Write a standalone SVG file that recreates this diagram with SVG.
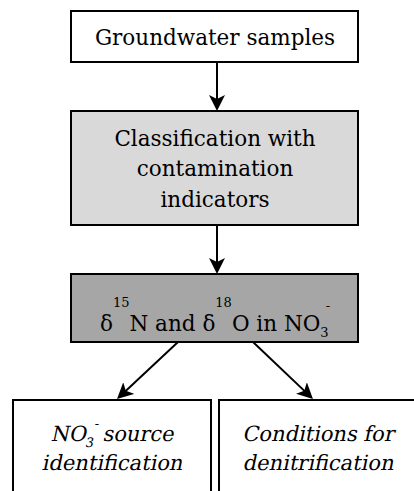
<svg xmlns="http://www.w3.org/2000/svg" width="414" height="491" viewBox="0 0 414 491">
<style>
  .box { stroke: #000; stroke-width: 2; }
  .t { font-family: "DejaVu Serif", "Liberation Serif", serif; font-size: 21.5px; fill: #000; text-anchor: middle; }
  .it { font-size: 21px; }
  .sm { font-size: 13px; }
  .conn { stroke: #000; stroke-width: 2; fill: none; marker-end: url(#ah); }
</style>
<defs>
  <marker id="ah" viewBox="0 0 16 16" refX="10" refY="8" markerWidth="16" markerHeight="16" markerUnits="userSpaceOnUse" orient="auto">
    <path d="M0,0 L16,8 L0,16 L4,8 z" fill="#000"/>
  </marker>
</defs>
<g id="node-groundwater">
  <rect class="box" x="71" y="11" width="287" height="51" fill="#fff"/>
  <text class="t" x="215" y="45">Groundwater samples</text>
</g>
<g id="node-classification">
  <rect class="box" x="71" y="111" width="287" height="114" fill="#d9d9d9"/>
  <text class="t" x="215" y="146">Classification with</text>
  <text class="t" x="215" y="176">contamination</text>
  <text class="t" x="215" y="207">indicators</text>
</g>
<g id="node-isotopes">
  <rect class="box" x="71" y="274" width="287" height="68" fill="#a6a6a6"/>
  <text class="t" x="215" y="331">δ<tspan class="sm" dy="-24">15</tspan><tspan dy="24">N and δ</tspan><tspan class="sm" dy="-24">18</tspan><tspan dy="24">O in NO</tspan><tspan class="sm" dy="6">3</tspan><tspan class="sm" dx="-3" dy="-27">-</tspan></text>
</g>
<g id="node-source">
  <rect class="box" x="13" y="400" width="198" height="100" fill="#fff"/>
  <g transform="translate(112,441) skewX(-12)">
    <text class="t it" x="0" y="0">NO<tspan class="sm" dy="6">3</tspan><tspan class="sm" dx="-3" dy="-19">-</tspan><tspan dy="13"> source</tspan></text>
  </g>
  <g transform="translate(112,470) skewX(-12)">
    <text class="t it" x="0" y="0">identification</text>
  </g>
</g>
<g id="node-denitrification">
  <rect class="box" x="219" y="400" width="198" height="100" fill="#fff"/>
  <g transform="translate(318,441) skewX(-12)">
    <text class="t it" x="0" y="0">Conditions for</text>
  </g>
  <g transform="translate(318,470) skewX(-12)">
    <text class="t it" x="0" y="0">denitrification</text>
  </g>
</g>
<g id="connectors">
  <line class="conn" x1="217" y1="62" x2="217" y2="105"/>
  <line class="conn" x1="217" y1="225" x2="217" y2="268"/>
  <line class="conn" x1="178" y1="342" x2="121.4" y2="394.9"/>
  <line class="conn" x1="253" y1="342" x2="308.6" y2="394.9"/>
</g>
</svg>
